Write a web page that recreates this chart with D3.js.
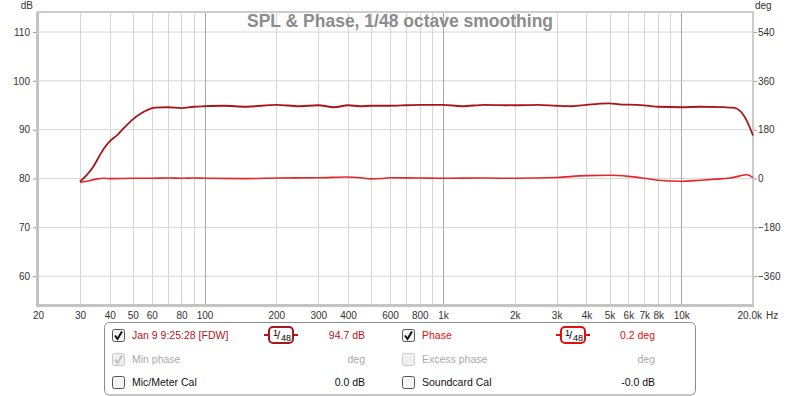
<!DOCTYPE html>
<html><head><meta charset="utf-8">
<script src="https://cdn.jsdelivr.net/npm/d3@7"></script>
<style>
html,body{margin:0;padding:0;background:#fff;}
svg{display:block;font-family:"Liberation Sans",Arial,sans-serif;}
</style></head>
<body><svg id="c" width="800" height="396"></svg>
<script>
// ---- data ----
const splFreq = [30,32,34,36,38,40,43,46,50,54,58,62,70,80,90,100,120,150,200,250,300,350,400,450,500,600,700,800,1000,1200,1500,2000,2500,3000,3500,4000,5000,5500,6500,8000,10000,12000,15000,16500,17600,18800,20000];
const splDb   = [79.3,80.6,82.2,84.3,86.2,87.5,88.8,90.3,92.0,93.2,94.0,94.4,94.5,94.3,94.6,94.7,94.8,94.6,95.0,94.7,94.9,94.5,94.9,94.7,94.8,94.8,94.9,95.0,95.0,94.7,95.0,94.9,95.0,94.8,94.7,95.0,95.3,95.1,95.0,94.6,94.5,94.6,94.5,94.4,93.8,91.8,88.7];
const phaseFreq = [30,32,35,38,40,50,60,70,80,90,100,150,200,300,400,450,500,550,600,800,1000,1500,2000,3000,4000,5000,6000,7000,8000,10000,12000,14000,16000,17500,18700,19500,20000];
const phaseDeg  = [-15,-12,-4,-1,-2,-1,-1,0,-1,0,-1,-2,0,1,4,1,-3,-2,1,0,-1,0,-1,2,9,10,6,-1,-8,-12,-8,-4,0,7,12,8,1];
const dbTicks = [60,70,80,90,100,110];
const degTicks = [-360,-180,0,180,360,540];
const xTickVals = [20,30,40,50,60,80,100,200,300,400,600,800,1000,2000,3000,4000,5000,6000,7000,8000,10000];
const xTickText = ["20","30","40","50","60","80","100","200","300","400","600","800","1k","2k","3k","4k","5k","6k","7k","8k","10k"];
const gridFreqs = [30,40,50,60,70,80,90,100,200,300,400,500,600,700,800,900,1000,2000,3000,4000,5000,6000,7000,8000,9000,10000];
const decades = [100,1000,10000];
const titleText = "SPL & Phase, 1/48 octave smoothing";

// ---- layout ----
const L=38, R=753, T=12, B=305;
const svg = d3.select("#c");
const x = d3.scaleLog().domain([20,20000]).range([L,R]);
const y = d3.scaleLinear().domain([54,114]).range([B,T]);
const yd = d3.scaleLinear().domain([-468,612]).range([B,T]);

const g = svg.append("g");
g.selectAll("line.h").data(dbTicks).join("line")
  .attr("x1",L).attr("x2",R).attr("y1",d=>y(d)+0.5).attr("y2",d=>y(d)+0.5)
  .attr("stroke","#d6d6d6").attr("stroke-width",1);
g.selectAll("line.v").data(gridFreqs).join("line")
  .attr("x1",d=>Math.round(x(d))+0.5).attr("x2",d=>Math.round(x(d))+0.5).attr("y1",T).attr("y2",B)
  .attr("stroke",d=>decades.includes(d)?"#a8a8a8":"#d6d6d6").attr("stroke-width",1);

g.append("rect").attr("x",L).attr("y",T).attr("width",R-L).attr("height",B-T)
  .attr("fill","none").attr("stroke","#cccccc").attr("stroke-width",2);
g.append("line").attr("x1",L-0.5).attr("x2",L-0.5).attr("y1",T).attr("y2",B+1.5).attr("stroke","#c4c4c4").attr("stroke-width",3);
g.append("line").attr("x1",L-2).attr("x2",R+1).attr("y1",B+0.5).attr("y2",B+0.5).attr("stroke","#c4c4c4").attr("stroke-width",3);

const yAxisL = d3.axisLeft(y).tickValues(dbTicks).tickSize(3).tickPadding(3);
const gl = svg.append("g").attr("transform",`translate(${L-2},0.5)`).call(yAxisL);
gl.select(".domain").remove();
gl.selectAll("line").attr("stroke","#999");
gl.selectAll("text").attr("font-size",10).attr("fill","#333").attr("font-family","Liberation Sans, Arial");
const yAxisR = d3.axisRight(yd).tickValues(degTicks).tickSize(3).tickPadding(1);
const gr = svg.append("g").attr("transform",`translate(${R+1},0.5)`).call(yAxisR);
gr.select(".domain").remove();
gr.selectAll("line").attr("stroke","#999");
gr.selectAll("text").attr("font-size",10).attr("fill","#333").attr("font-family","Liberation Sans, Arial");
const xAxis = d3.axisBottom(x).tickValues(xTickVals).tickFormat((d,i)=>xTickText[i]).tickSize(0).tickPadding(6);
const gb = svg.append("g").attr("transform",`translate(0,${B+1})`).call(xAxis);
gb.select(".domain").remove();
gb.selectAll("text").attr("font-size",10).attr("fill","#333").attr("font-family","Liberation Sans, Arial");
svg.append("text").attr("x",762).attr("y",319).attr("text-anchor","end").attr("font-size",10).attr("fill","#333").text("20.0k");
svg.append("text").attr("x",766).attr("y",319).attr("font-size",10).attr("fill","#333").text("Hz");
svg.append("text").attr("x",33).attr("y",9).attr("text-anchor","end").attr("font-size",10).attr("fill","#333").text("dB");
svg.append("text").attr("x",755).attr("y",9).attr("font-size",10).attr("fill","#333").text("deg");

svg.append("text").attr("x",400).attr("y",27).attr("text-anchor","middle")
  .attr("font-size",17.5).attr("font-weight","bold").attr("fill","#8c8c8c").text(titleText);

const splData = splFreq.map((f,i)=>[f,splDb[i]]);
const phData = phaseFreq.map((f,i)=>[f,phaseDeg[i]]);
svg.append("path").datum(phData)
  .attr("d",d3.line().x(d=>x(d[0])).y(d=>yd(d[1])).curve(d3.curveMonotoneX))
  .attr("fill","none").attr("stroke","#e4262b").attr("stroke-width",1.6);
svg.append("path").datum(splData)
  .attr("d",d3.line().x(d=>x(d[0])).y(d=>y(d[1])).curve(d3.curveMonotoneX))
  .attr("fill","none").attr("stroke","#a8161c").attr("stroke-width",1.8);

const lg = svg.append("g").attr("font-size",10.5);
lg.append("rect").attr("x",104.5).attr("y",322.5).attr("width",591).attr("height",72.5).attr("rx",5)
  .attr("fill","#fff").attr("stroke","#8c8c8c");

function checkbox(cx,cy,checked,disabled){
  const c = lg.append("g").attr("transform",`translate(${cx},${cy})`);
  c.append("rect").attr("x",0.5).attr("y",0.5).attr("width",12).attr("height",12).attr("rx",2)
    .attr("fill",disabled?"#f0f0f0":"#f4f4f4").attr("stroke",disabled?"#c8c8c8":"#555");
  if(checked){
    c.append("path").attr("d","M3,6.5 L5.5,10 L10,2.5").attr("fill","none")
      .attr("stroke",disabled?"#c0c0c0":"#111").attr("stroke-width",2);
  }
}
function smoothIcon(cx,cy,col){
  const s = lg.append("g").attr("transform",`translate(${cx},${cy})`);
  s.append("line").attr("x1",-17).attr("x2",17).attr("y1",0).attr("y2",0).attr("stroke",col).attr("stroke-width",2);
  s.append("rect").attr("x",-12).attr("y",-8).attr("width",24).attr("height",16).attr("rx",4)
    .attr("fill","#fff").attr("stroke",col).attr("stroke-width",2);
  s.append("text").attr("x",-8).attr("y",1).attr("font-size",9).attr("fill","#000").text("1");
  s.append("text").attr("x",-4).attr("y",4).attr("font-size",11).attr("fill","#000").text("/");
  s.append("text").attr("x",0).attr("y",6).attr("font-size",9).attr("fill","#000").text("48");
}
const rows = [
  {cy:329, b:339, l1:"Jan 9 9:25:28 [FDW]", c1:"#b0141b", v1:"94.7 dB", vc1:"#b0141b", ck1:true, dis1:false,
   l2:"Phase", c2:"#e01010", v2:"0.2 deg", vc2:"#e01010", ck2:true, dis2:false},
  {cy:353, b:363, l1:"Min phase", c1:"#aaaaaa", v1:"deg", vc1:"#aaaaaa", ck1:true, dis1:true,
   l2:"Excess phase", c2:"#aaaaaa", v2:"deg", vc2:"#aaaaaa", ck2:false, dis2:true},
  {cy:376, b:386, l1:"Mic/Meter Cal", c1:"#111", v1:"0.0 dB", vc1:"#111", ck1:false, dis1:false,
   l2:"Soundcard Cal", c2:"#111", v2:"-0.0 dB", vc2:"#111", ck2:false, dis2:false}
];
rows.forEach(r=>{
  checkbox(112,r.cy,r.ck1,r.dis1);
  checkbox(402,r.cy,r.ck2,r.dis2);
  lg.append("text").attr("x",132).attr("y",r.b).attr("fill",r.c1).text(r.l1);
  lg.append("text").attr("x",422).attr("y",r.b).attr("fill",r.c2).text(r.l2);
  lg.append("text").attr("x",365).attr("y",r.b).attr("text-anchor","end").attr("fill",r.vc1).text(r.v1);
  lg.append("text").attr("x",655).attr("y",r.b).attr("text-anchor","end").attr("fill",r.vc2).text(r.v2);
});
smoothIcon(281,335,"#a8161c");
smoothIcon(573,335,"#e01010");
</script>
</body></html>
